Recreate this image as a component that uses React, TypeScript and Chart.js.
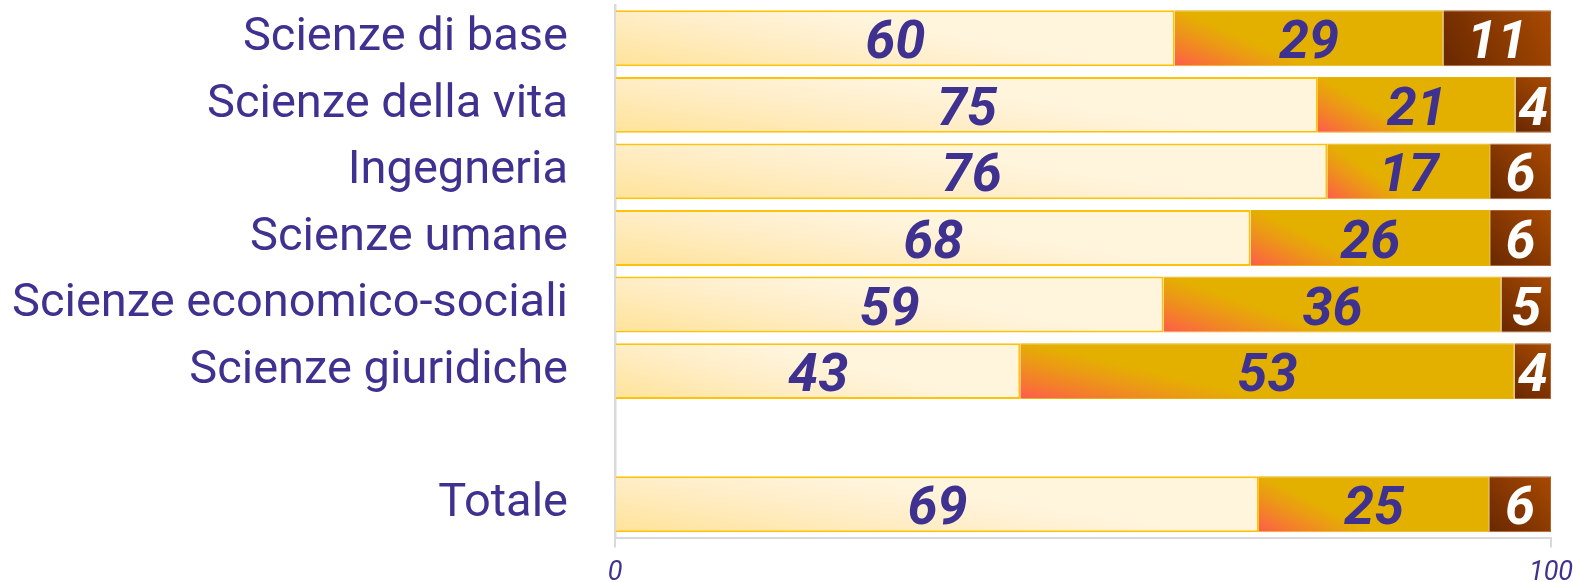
import React, { useEffect, useRef } from "react";
import { Chart, registerables } from "chart.js";

Chart.register(...registerables);

const categories = [
  "Scienze di base",
  "Scienze della vita",
  "Ingegneria",
  "Scienze umane",
  "Scienze economico-sociali",
  "Scienze giuridiche",
  "",
  "Totale",
];

// bar lengths (percent)
const share1 = [59.8, 75.1, 76.1, 67.9, 58.6, 43.3, null, 68.8];
const share2 = [28.7, 21.1, 17.4, 25.6, 36.1, 52.8, null, 24.6];
const share3 = [11.5, 3.8, 6.5, 6.5, 5.3, 3.9, null, 6.6];

// printed labels inside the bars
const label1 = ["60", "75", "76", "68", "59", "43", null, "69"];
const label2 = ["29", "21", "17", "26", "36", "53", null, "25"];
const label3 = ["11", "4", "6", "6", "5", "4", null, "6"];

const xTicks = [0, 100];

const PURPLE = "#3f3190";
const seriesValues = [share1, share2, share3];
const seriesLabels = [label1, label2, label3];
const labelColors = [PURPLE, PURPLE, "#ffffff"];

function ok(...v: number[]) {
  return v.every((n) => Number.isFinite(n));
}

function barGeom(ctx: any) {
  const chart = ctx.chart;
  const sx = chart.scales?.x;
  const sy = chart.scales?.y;
  if (!sx || !sy || ctx.type !== "data") return null;
  const i = ctx.dataIndex;
  const di = ctx.datasetIndex;
  if (seriesValues[di][i] == null) return null;
  let start = 0;
  for (let k = 0; k < di; k++) start += (seriesValues[k][i] as number) || 0;
  const v = (seriesValues[di][i] as number) || 0;
  const x0 = sx.getPixelForValue(start);
  const x1 = sx.getPixelForValue(start + v);
  const yc = sy.getPixelForValue(i);
  const cat = Math.abs(sy.getPixelForValue(1) - sy.getPixelForValue(0));
  const h = cat * 0.84;
  const g = { x0, x1, y0: yc - h / 2, y1: yc + h / 2, w: x1 - x0, h };
  if (!ok(g.x0, g.x1, g.y0, g.y1) || g.w <= 0 || g.h <= 0) return null;
  return g;
}

function diagGrad(c: CanvasRenderingContext2D, g: any, L1: number, L2: number) {
  const f = (L1 * L2) / (L1 * L1 + L2 * L2);
  return c.createLinearGradient(g.x0, g.y1, g.x0 + f * L2, g.y1 - f * L1);
}

function bg1(ctx: any) {
  const g = barGeom(ctx);
  if (!g) return "#fff0cc";
  const grad = diagGrad(ctx.chart.ctx, g, g.w * 0.9, g.h * 1.6);
  grad.addColorStop(0, "#ffe399");
  grad.addColorStop(0.6, "#ffedc6");
  grad.addColorStop(1, "#fff4dc");
  return grad;
}

function bg2(ctx: any) {
  const g = barGeom(ctx);
  if (!g) return "#e4b000";
  const grad = diagGrad(ctx.chart.ctx, g, g.w * 0.5, g.h * 1.05);
  grad.addColorStop(0, "#ff5a4e");
  grad.addColorStop(0.35, "#f47d2c");
  grad.addColorStop(0.7, "#eb9b14");
  grad.addColorStop(1, "#e4b000");
  return grad;
}

function bg3(ctx: any) {
  const g = barGeom(ctx);
  if (!g) return "#8a3a00";
  const grad = ctx.chart.ctx.createLinearGradient(g.x0, g.y1, g.x1, g.y0);
  grad.addColorStop(0, "#692800");
  grad.addColorStop(1, "#a84a00");
  return grad;
}

const valueLabelPlugin = {
  id: "valueLabelPlugin",
  afterDatasetsDraw(chart: any) {
    const c = chart.ctx;
    chart.data.datasets.forEach((_ds: any, di: number) => {
      const meta = chart.getDatasetMeta(di);
      meta.data.forEach((el: any, i: number) => {
        const txt = seriesLabels[di][i];
        if (txt == null) return;
        const { x, y, base } = el.getProps(["x", "y", "base"], true);
        c.save();
        c.font = "italic bold 54px Roboto";
        c.fillStyle = labelColors[di];
        c.textAlign = "center";
        c.textBaseline = "alphabetic";
        c.fillText(txt, (x + base) / 2, y + 20);
        c.restore();
      });
    });
  },
};

export default function App() {
  const ref = useRef<HTMLCanvasElement | null>(null);

  useEffect(() => {
    if (!ref.current) return;
    const chart = new Chart(ref.current, {
      type: "bar",
      data: {
        labels: categories,
        datasets: [
          {
            label: "1",
            data: share1,
            backgroundColor: bg1,
            borderColor: "#ffc20a",
            borderWidth: 2,
          },
          {
            label: "2",
            data: share2,
            backgroundColor: bg2,
            borderColor: "#e9b20a",
            borderWidth: 1,
          },
          {
            label: "3",
            data: share3,
            backgroundColor: bg3,
            borderColor: "#b0622a",
            borderWidth: 1,
          },
        ] as any,
      },
      options: {
        indexAxis: "y",
        responsive: false,
        animation: false,
        devicePixelRatio: 1,
        categoryPercentage: 1,
        barPercentage: 0.84,
        layout: { padding: { top: 5, right: 22, left: 0, bottom: 0 } },
        plugins: {
          legend: { display: false },
          tooltip: { enabled: false },
        },
        scales: {
          x: {
            stacked: true,
            min: 0,
            max: 100,
            afterFit: (s: any) => {
              s.height = 44.5;
              s.paddingLeft = 0;
              s.paddingRight = 0;
            },
            afterBuildTicks: (s: any) => {
              s.ticks = xTicks.map((v) => ({ value: v }));
            },
            grid: {
              display: true,
              drawOnChartArea: false,
              drawTicks: true,
              tickLength: 10,
              color: "#d9d9d9",
              lineWidth: 2,
            },
            border: { display: true, color: "#d9d9d9", width: 2 },
            ticks: {
              color: PURPLE,
              padding: 10,
              maxRotation: 0,
              font: { family: "Roboto", size: 27, style: "italic" },
            },
          },
          y: {
            stacked: true,
            afterFit: (s: any) => {
              s.width = 615;
              s.paddingTop = 0;
              s.paddingBottom = 0;
            },
            grid: { display: false, drawTicks: false },
            border: { display: true, color: "#dadada", width: 2.5 },
            ticks: {
              color: PURPLE,
              padding: 47,
              autoSkip: false,
              font: { family: "Roboto", size: 47 },
            },
          },
        },
      } as any,
      plugins: [valueLabelPlugin],
    });
    return () => chart.destroy();
  }, []);

  return (
    <div style={{ position: "absolute", left: 0, top: 0, width: 1573, height: 582, background: "#fff" }}>
      <canvas ref={ref} width={1573} height={582} style={{ display: "block" }} />
    </div>
  );
}
